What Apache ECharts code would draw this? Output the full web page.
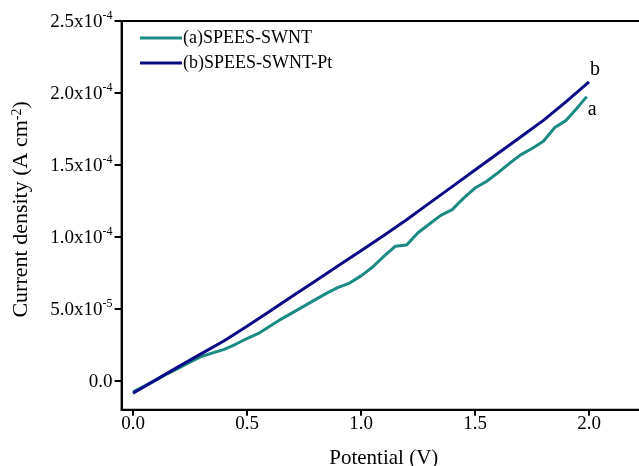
<!DOCTYPE html>
<html>
<head>
<meta charset="utf-8">
<script src="https://cdn.jsdelivr.net/npm/echarts@6/dist/echarts.min.js"></script>
<style>html,body{margin:0;padding:0;background:#fff}#c{width:639px;height:466px}</style>
</head>
<body>
<div id="c"></div>
<script>
// ---- data ----
const seriesNames = ['(a)SPEES-SWNT', '(b)SPEES-SWNT-Pt'];
const endTags = ['a', 'b'];
const xTicks = [0, 0.5, 1.0, 1.5, 2.0];
const yTicks = [0, 5e-5, 1.0e-4, 1.5e-4, 2.0e-4, 2.5e-4];

const potentialA = [0.00,0.05,0.10,0.15,0.20,0.25,0.30,0.35,0.40,0.45,0.50,0.55,0.60,0.65,0.70,0.75,0.80,0.85,0.90,0.95,1.00,1.05,1.10,1.15,1.20,1.25,1.30,1.35,1.40,1.45,1.50,1.55,1.60,1.65,1.70,1.75,1.80,1.85,1.90,1.95,1.99];
const currentA = [-7.5e-6,-3.5e-6,0.5e-6,5.0e-6,9.0e-6,1.3e-5,1.7e-5,1.95e-5,2.2e-5,2.55e-5,2.95e-5,3.3e-5,3.8e-5,4.3e-5,4.75e-5,5.2e-5,5.65e-5,6.1e-5,6.5e-5,6.8e-5,7.3e-5,7.9e-5,8.65e-5,9.35e-5,9.45e-5,1.03e-4,1.09e-4,1.15e-4,1.19e-4,1.27e-4,1.34e-4,1.385e-4,1.445e-4,1.51e-4,1.57e-4,1.615e-4,1.665e-4,1.76e-4,1.81e-4,1.9e-4,1.975e-4];

const potentialB = [0.0,0.1,0.2,0.3,0.4,0.5,0.6,0.7,0.8,0.9,1.0,1.1,1.2,1.3,1.4,1.5,1.6,1.7,1.8,1.9,2.0];
const currentB = [-8.5e-6,0.8e-6,1.0e-5,1.9e-5,2.8e-5,3.8e-5,4.85e-5,5.9e-5,6.95e-5,8.0e-5,9.05e-5,1.01e-4,1.12e-4,1.235e-4,1.35e-4,1.465e-4,1.58e-4,1.695e-4,1.81e-4,1.94e-4,2.078e-4];

// ---- chart ----
const FONT = 'Liberation Serif';
const colors = ['#1a8a82', '#0b0b86'];

function sciLabel(v) {
  if (Math.abs(v) < 1e-12) return '{b|0.0}';
  const e = Math.floor(Math.log10(Math.abs(v)) + 1e-9);
  const m = v / Math.pow(10, e);
  return '{b|' + m.toFixed(1) + 'x10}{s|' + e + '}';
}

const chart = echarts.init(document.getElementById('c'), null, {renderer: 'canvas'});
const pairs = (xs, ys) => xs.map((x, i) => [x, ys[i]]);

chart.setOption({
  animation: false,
  backgroundColor: '#fff',
  color: colors,
  grid: {
    left: 121.6, top: 21, width: 524.4, height: 388.8,
    outerBoundsMode: 'none', containLabel: false,
    show: true, borderColor: '#000', borderWidth: 2, backgroundColor: 'transparent'
  },
  legend: {
    orient: 'vertical', left: 135, top: 24,
    itemWidth: 42, itemHeight: 3, itemGap: 7, icon: 'rect',
    data: seriesNames,
    textStyle: {fontFamily: FONT, fontSize: 18, color: '#000', padding: [0,0,0,-4]}
  },
  xAxis: {
    type: 'value', min: -0.05, max: 2.25,
    name: 'Potential (V)', nameLocation: 'middle', nameGap: 38,
    nameTextStyle: {fontFamily: FONT, fontSize: 21, color: '#000'},
    axisLine: {show: true, onZero: false, lineStyle: {color: '#000', width: 2}},
    axisTick: {show: true, inside: false, length: 6, customValues: xTicks, lineStyle: {color: '#000', width: 2}},
    axisLabel: {customValues: xTicks, margin: 5, fontFamily: FONT, fontSize: 19, color: '#000',
      formatter: v => v.toFixed(1)},
    splitLine: {show: false}
  },
  yAxis: {
    type: 'value', min: -2e-5, max: 2.5e-4,
    name: 'Current density (A cm{s|-2})', nameLocation: 'middle', nameGap: 89, nameRotate: 90,
    nameTextStyle: {fontFamily: FONT, fontSize: 22, color: '#000', padding: [0, 0, 0, 12],
      rich: {s: {fontFamily: FONT, fontSize: 14, color: '#000', verticalAlign: 'top', lineHeight: 12}}},
    axisLine: {show: true, onZero: false, lineStyle: {color: '#000', width: 2}},
    axisTick: {show: true, inside: false, length: 7, customValues: yTicks, lineStyle: {color: '#000', width: 2}},
    axisLabel: {customValues: yTicks, margin: 9, color: '#000',
      formatter: sciLabel,
      rich: {
        b: {fontFamily: FONT, fontSize: 19, color: '#000', lineHeight: 22, verticalAlign: 'bottom'},
        s: {fontFamily: FONT, fontSize: 12, color: '#000', lineHeight: 12, verticalAlign: 'top'}
      }},
    splitLine: {show: false}
  },
  series: [
    {
      name: seriesNames[0], type: 'line', data: pairs(potentialA, currentA),
      showSymbol: false, symbol: 'none', lineStyle: {width: 3, color: colors[0]},
      endLabel: {show: true, formatter: endTags[0], fontFamily: FONT, fontSize: 20, color: '#000', distance: 0, offset: [1, 13]},
      z: 2
    },
    {
      name: seriesNames[1], type: 'line', data: pairs(potentialB, currentB),
      showSymbol: false, symbol: 'none', lineStyle: {width: 3, color: colors[1]},
      endLabel: {show: true, formatter: endTags[1], fontFamily: FONT, fontSize: 20, color: '#000', distance: 0, offset: [1, -12]},
      z: 3
    }
  ]
});
</script>
</body>
</html>
